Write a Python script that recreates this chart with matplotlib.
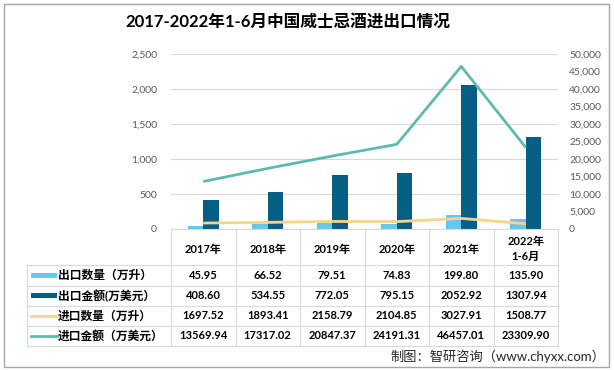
import matplotlib
matplotlib.use('Agg')
import matplotlib.pyplot as plt
import numpy as np
from matplotlib.lines import Line2D
from matplotlib.patches import Rectangle

plt.rcParams['font.family'] = ['Lato', 'Noto Sans CJK SC', 'DejaVu Sans']

# ---------------- data ----------------
title = '2017-2022年1-6月中国威士忌酒进出口情况'
categories = ['2017年', '2018年', '2019年', '2020年', '2021年', '2022年\n1-6月']
export_qty = [45.95, 66.52, 79.51, 74.83, 199.80, 135.90]
export_val = [408.60, 534.55, 772.05, 795.15, 2052.92, 1307.94]
import_qty = [1697.52, 1893.41, 2158.79, 2104.85, 3027.91, 1508.77]
import_val = [13569.94, 17317.02, 20847.37, 24191.31, 46457.01, 23309.90]
series_names = ['出口数量（万升）', '出口金额(万美元）', '进口数量（万升）', '进口金额（万美元）']
left_ticks = [0, 500, 1000, 1500, 2000, 2500]
right_ticks = [0, 5000, 10000, 15000, 20000, 25000, 30000, 35000, 40000, 45000, 50000]
source = '制图：智研咨询（www.chyxx.com）'

c_light = '#62C8EE'
c_dark = '#065E86'
c_yellow = '#F6D587'
c_teal = '#5DBBAE'
grid_c = '#D9D9D9'
tick_c = '#595959'

W, H = 614, 370
fig = plt.figure(figsize=(W / 100, H / 100), dpi=100)


def fx(px):
    return px / W


def fy(py):
    return 1 - py / H


X0, X1, YT, YB = 171, 558, 54, 229
ax = fig.add_axes([fx(X0), fy(YB), (X1 - X0) / W, (YB - YT) / H])
n = len(categories)
x = np.arange(n)
ax.set_xlim(-0.5, n - 0.5)
ax.set_ylim(0, 2500)
ax.set_yticks(left_ticks)
ax.set_yticklabels([f'{v:,}' for v in left_ticks])
bw = 0.24
ax.bar(x - bw / 2, export_qty, bw, color=c_light, zorder=2)
ax.bar(x + bw / 2, export_val, bw, color=c_dark, zorder=2)
ax.set_axisbelow(True)
ax.yaxis.grid(True, color=grid_c, lw=0.8)
ax.set_xticks([])
for s in ax.spines.values():
    s.set_visible(False)
ax.tick_params(axis='y', length=0, pad=10, labelsize=7.5, labelcolor=tick_c)

ax2 = ax.twinx()
ax2.set_ylim(0, 50000)
ax2.set_yticks(right_ticks)
ax2.set_yticklabels([f'{v:,}' for v in right_ticks])
ax2.plot(x, import_qty, color=c_yellow, lw=2.0, solid_capstyle='butt')
ax2.plot(x, import_val, color=c_teal, lw=2.0, solid_capstyle='butt')
for s in ax2.spines.values():
    s.set_visible(False)
ax2.tick_params(axis='y', length=0, pad=8, labelsize=7.5, labelcolor=tick_c)
ax2.set_xlim(-0.5, n - 0.5)

# ---------------- title ----------------
fig.text(fx(288), fy(23), title, ha='center', va='center', fontsize=12,
         fontweight='bold', color='#000000')

# ---------------- data table ----------------
colw = (X1 - X0) / n
row_lines = [265, 285.5, 305.5, 325.7, 345.7]
tbl_left = 27


def hline(xa, xb, y):
    fig.add_artist(Line2D([fx(xa), fx(xb)], [fy(y), fy(y)], color=grid_c, lw=0.8))


def vline(xp, ya, yb):
    fig.add_artist(Line2D([fx(xp), fx(xp)], [fy(ya), fy(yb)], color=grid_c, lw=0.8))


hline(X0, X1, YB)
for y in row_lines:
    hline(tbl_left, X1, y)
for i in range(n + 1):
    vline(X0 + i * colw, YB, row_lines[-1])
vline(tbl_left, row_lines[0], row_lines[-1])

for i, cat in enumerate(categories):
    fig.text(fx(X0 + (i + 0.5) * colw), fy(249), cat, ha='center', va='center',
             fontsize=8, fontweight='bold', linespacing=1.45)

rows = [export_qty, export_val, import_qty, import_val]
colors = [c_light, c_dark, c_yellow, c_teal]
for r, (vals, name, col) in enumerate(zip(rows, series_names, colors)):
    yc = (row_lines[r] + row_lines[r + 1]) / 2
    for i, v in enumerate(vals):
        fig.text(fx(X0 + (i + 0.5) * colw), fy(yc), f'{v:.2f}', ha='center',
                 va='center', fontsize=8, fontweight='bold')
    if r < 2:
        fig.add_artist(Rectangle((fx(31), fy(yc + 2.5)), (57 - 31) / W, 5 / H,
                                 color=col, lw=0))
    else:
        fig.add_artist(Line2D([fx(31), fx(57)], [fy(yc), fy(yc)], color=col, lw=2))
    fig.text(fx(58), fy(yc), name, ha='left', va='center', fontsize=8.5,
             fontweight='bold')

# ---------------- source ----------------
fig.text(fx(605), fy(356), source, ha='right', va='center', fontsize=9.5,
         color='#262626')

# ---------------- frame ----------------
fig.add_artist(Rectangle((fx(4), fy(367)), (609 - 4) / W, (367 - 4) / H,
                         fill=False, edgecolor='#A6A6A6', lw=1))

fig.savefig('out.png', dpi=100)
